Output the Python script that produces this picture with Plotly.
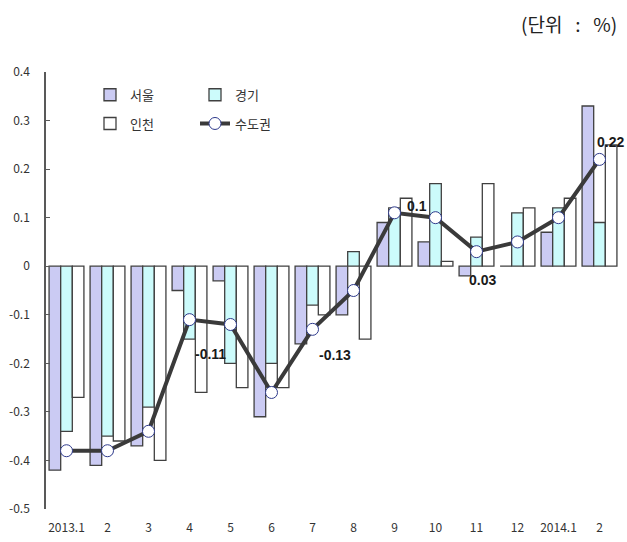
import plotly.graph_objects as go

months = ["2013.1", "2", "3", "4", "5", "6", "7", "8", "9", "10", "11", "12", "2014.1", "2"]
seoul = [-0.42, -0.41, -0.37, -0.05, -0.03, -0.31, -0.16, -0.10, 0.09, 0.05, -0.02, 0.00, 0.07, 0.33]
gyeonggi = [-0.34, -0.35, -0.29, -0.15, -0.20, -0.20, -0.08, 0.03, 0.12, 0.17, 0.06, 0.11, 0.12, 0.09]
incheon = [-0.27, -0.36, -0.40, -0.26, -0.25, -0.25, -0.10, -0.15, 0.14, 0.01, 0.17, 0.12, 0.14, 0.25]
capital = [-0.38, -0.38, -0.34, -0.11, -0.12, -0.26, -0.13, -0.05, 0.11, 0.10, 0.03, 0.05, 0.10, 0.22]

y_ticks = [0.4, 0.3, 0.2, 0.1, 0, -0.1, -0.2, -0.3, -0.4, -0.5]
y_tick_text = ["0.4", "0.3", "0.2", "0.1", "0", "-0.1", "-0.2", "-0.3", "-0.4", "-0.5"]

# which points get a value label, with pixel offsets from the marker
labelled = {3: (21, -34), 6: (22, -26), 9: (-19, 12), 10: (6, -28), 13: (11, 17)}

xs = list(range(len(months)))
outline = dict(color="#404040", width=1.3)
font_kr = "Noto Sans CJK KR"
nb = "\u00a0"

fig = go.Figure()
fig.add_trace(go.Bar(x=xs, y=seoul, name="서울", marker=dict(color="#cbcbf3", line=outline), legend="legend"))
fig.add_trace(go.Bar(x=xs, y=gyeonggi, name="경기", marker=dict(color="#ccfbfb", line=outline), legend="legend"))
fig.add_trace(go.Bar(x=xs, y=incheon, name="인천", marker=dict(color="#ffffff", line=outline), legend="legend2"))
fig.add_trace(go.Scatter(
    x=xs, y=capital, name="수도권", mode="lines+markers", legend="legend2",
    line=dict(color="#3a3a3a", width=4),
    marker=dict(size=12, color="#ffffff", line=dict(color="#2e3a8c", width=1)),
))

for i, (dx, dy) in labelled.items():
    v = capital[i]
    fig.add_annotation(
        x=i, y=v, text=f"{v:g}", showarrow=False, xshift=dx, yshift=dy,
        font=dict(family="Liberation Sans", size=14, color="#1a1a1a", weight="bold"),
    )

fig.add_annotation(
    xref="paper", yref="paper", x=(519 - 46) / 574, y=(513 - 23) / 441,
    xanchor="left", yanchor="middle", showarrow=False,
    text=f"(단위{nb * 3}:{nb * 3}%)",
    font=dict(family=font_kr, size=19, color="#222222"),
)

legend_common = dict(
    orientation="h", xanchor="left", yanchor="middle", bgcolor="rgba(0,0,0,0)",
    font=dict(family=font_kr, size=13, color="#333333"), entrywidth=60, itemwidth=30,
)

fig.update_layout(
    width=627, height=542,
    margin=dict(l=46, r=7, t=72, b=29),
    plot_bgcolor="#ffffff", paper_bgcolor="#ffffff",
    barmode="group", bargap=0.15, bargroupgap=0,
    legend=dict(x=(90 - 46) / 574, y=(513 - 95) / 441, **legend_common),
    legend2=dict(x=(90 - 46) / 574, y=(513 - 124) / 441, **legend_common),
    xaxis=dict(
        range=[-0.5, len(months) - 0.5], tickvals=xs, ticktext=months,
        showline=False, ticks="", showgrid=False, zeroline=False, ticklabelstandoff=10,
        tickfont=dict(family=font_kr, size=12, color="#333333"),
    ),
    xaxis2=dict(
        overlaying="x", anchor="free", position=0.5 / 0.9, side="bottom",
        range=[-0.5, len(months) - 0.5], tickvals=[i - 0.5 for i in range(len(months) + 1)],
        showticklabels=False, ticks="inside", ticklen=4, tickcolor="#7f7f7f",
        showline=True, linecolor="#7f7f7f", linewidth=1, showgrid=False, zeroline=False,
    ),
    yaxis=dict(
        range=[-0.5, 0.4], tickvals=y_ticks, ticktext=y_tick_text,
        showline=True, linecolor="#595959", linewidth=1.5,
        ticks="inside", ticklen=4, tickcolor="#595959",
        showgrid=False, zeroline=False, ticklabelstandoff=12,
        tickfont=dict(family=font_kr, size=12, color="#333333"),
    ),
    showlegend=True,
)

# page body has a default 8px margin; drop it so the 627x542 figure fills the window
fig.write_html(
    "out.html",
    config={"displayModeBar": False},
    post_script="document.body.style.margin='0';",
)
